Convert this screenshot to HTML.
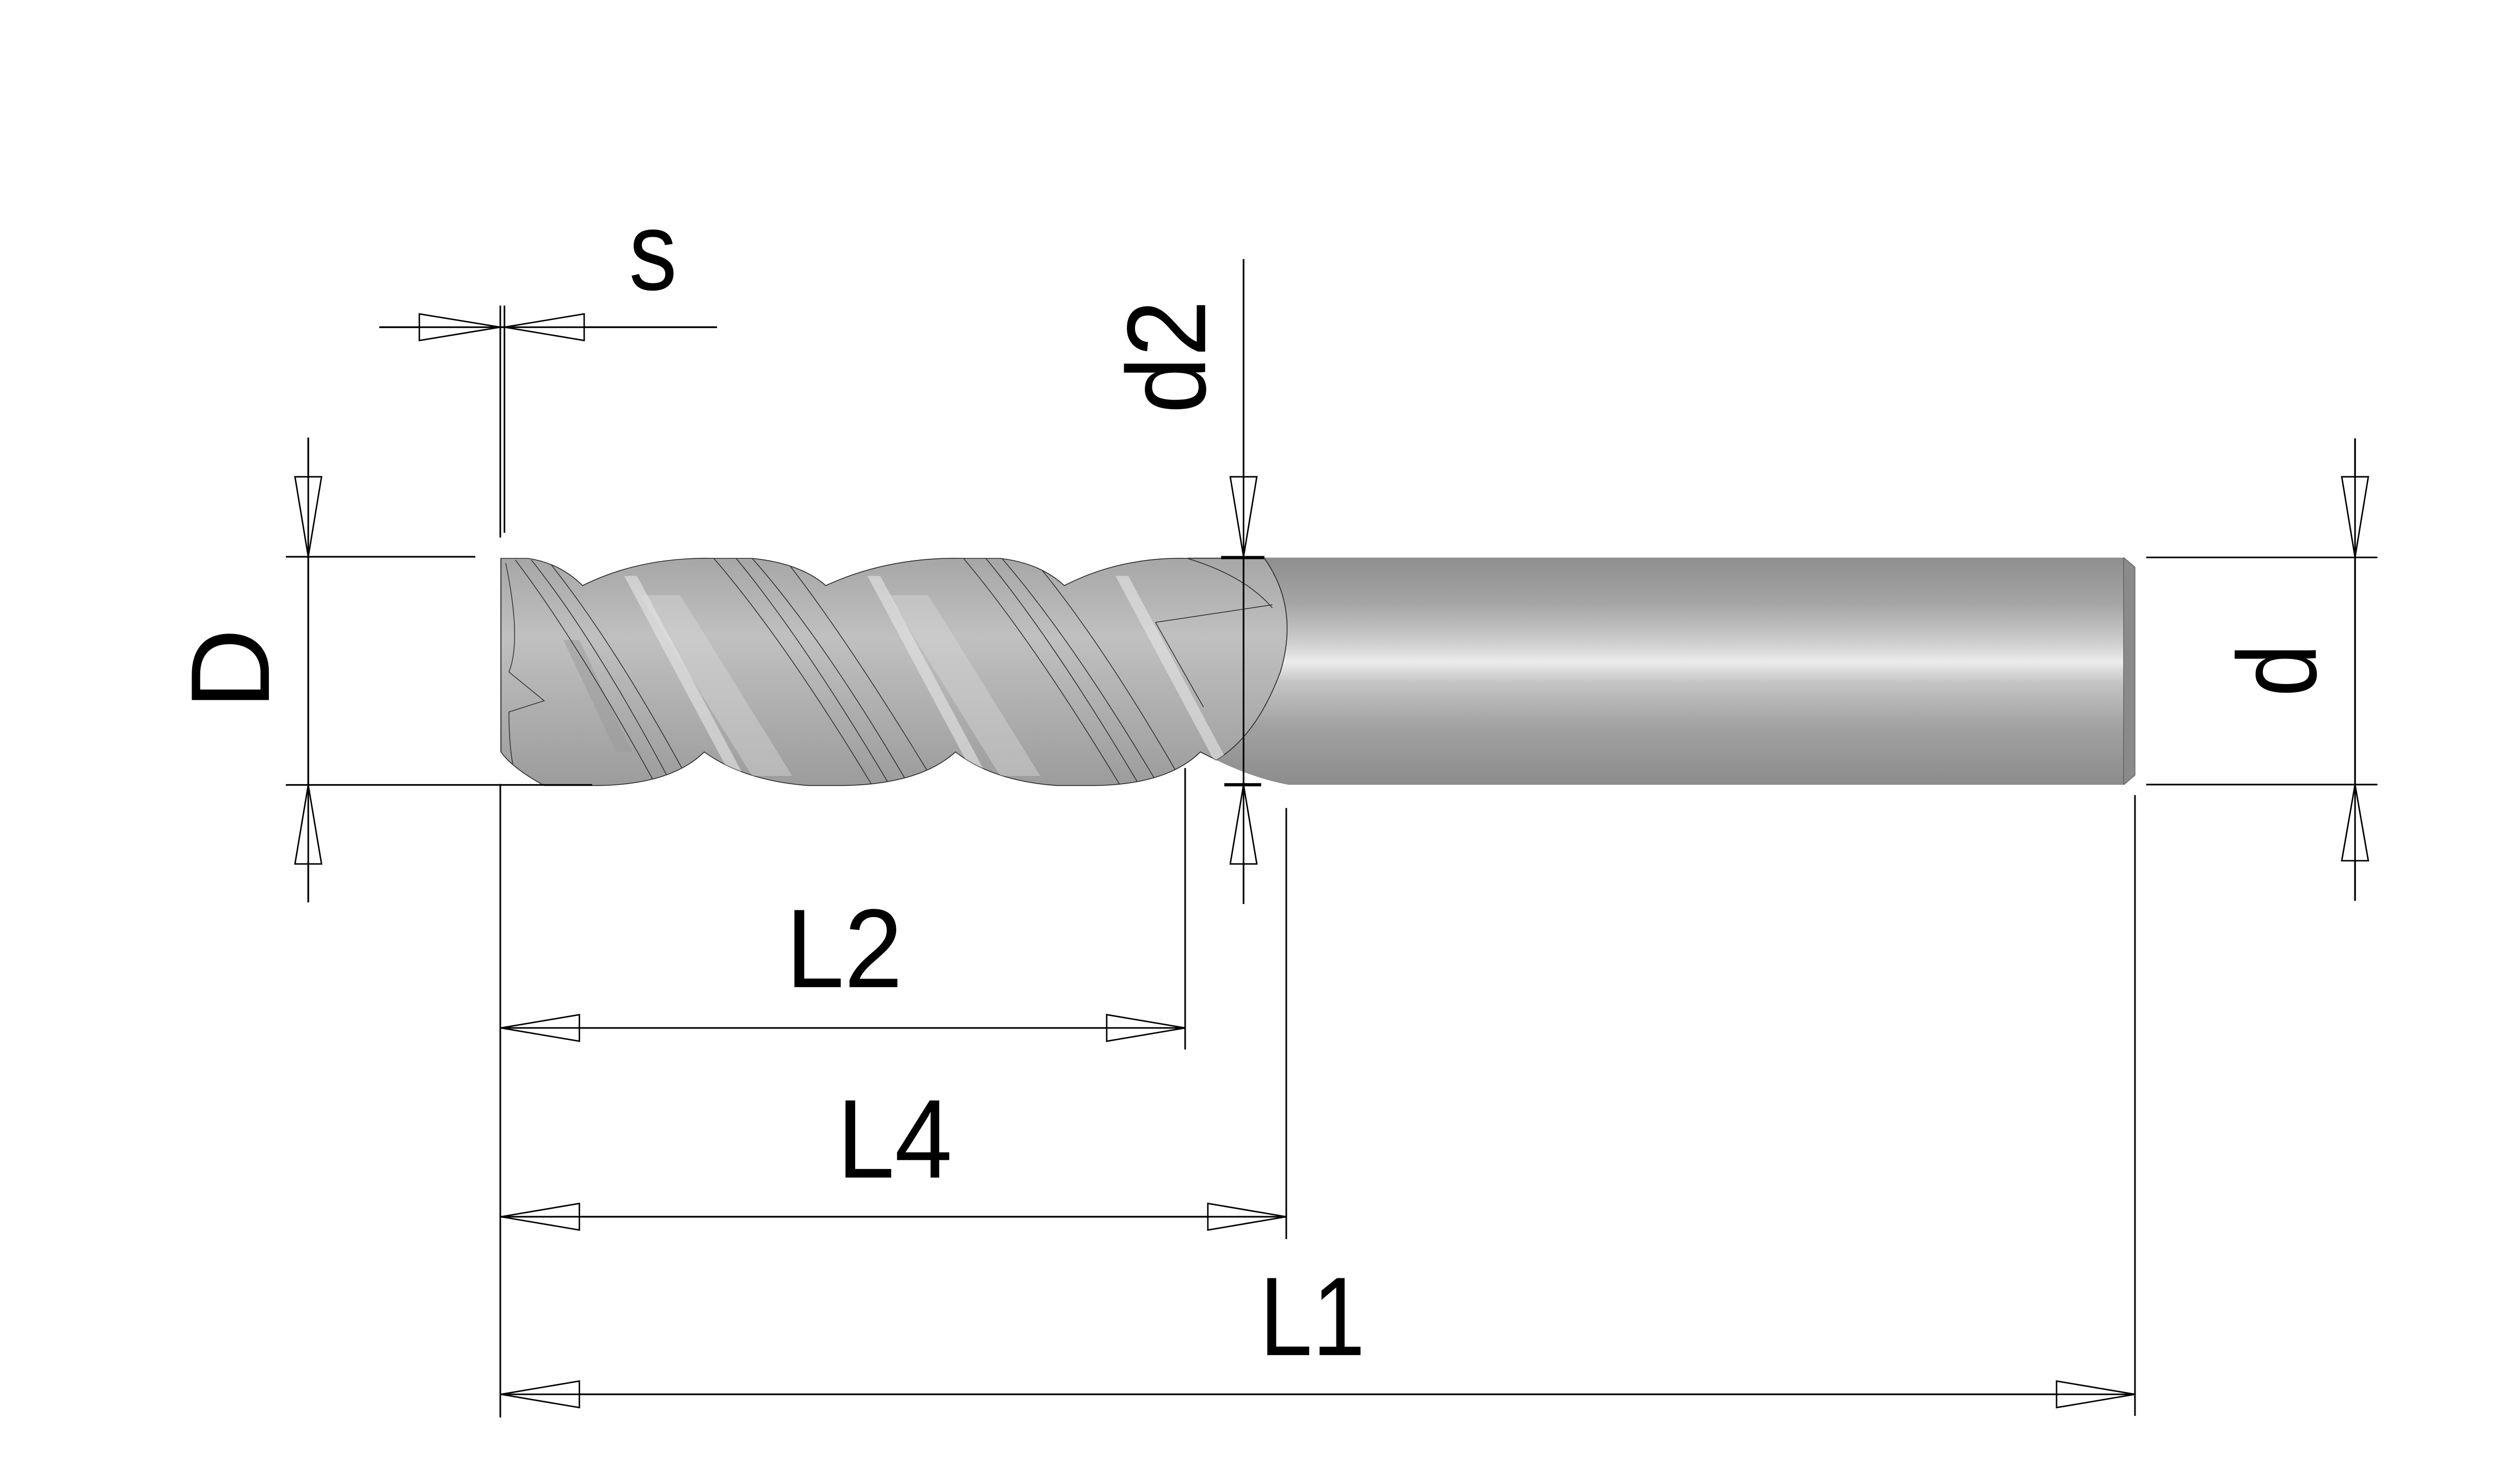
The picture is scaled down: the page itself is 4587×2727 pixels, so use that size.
<!DOCTYPE html>
<html><head><meta charset="utf-8"><style>
html,body{margin:0;padding:0;background:#fff;}
svg{display:block;}
text{font-family:"Liberation Sans",Arial,sans-serif;font-size:70px;fill:#000;}
</style></head><body>
<svg width="4587" height="2727" viewBox="0 0 1560.2 927.55" xmlns="http://www.w3.org/2000/svg">
<defs>
<linearGradient id="sh" x1="0" y1="348" x2="0" y2="491" gradientUnits="userSpaceOnUse">
<stop offset="0" stop-color="#8e8e8e"/>
<stop offset="0.2" stop-color="#a4a4a4"/>
<stop offset="0.38" stop-color="#cfcfcf"/>
<stop offset="0.46" stop-color="#ececec"/>
<stop offset="0.55" stop-color="#c4c4c4"/>
<stop offset="0.75" stop-color="#a0a0a0"/>
<stop offset="1" stop-color="#8c8c8c"/>
</linearGradient>
<linearGradient id="fl" x1="0" y1="348" x2="0" y2="491" gradientUnits="userSpaceOnUse">
<stop offset="0" stop-color="#a6a6a6"/>
<stop offset="0.35" stop-color="#c0c0c0"/>
<stop offset="0.6" stop-color="#b2b2b2"/>
<stop offset="1" stop-color="#9c9c9c"/>
</linearGradient>
<clipPath id="fc">
<path d="M313,349 L330,349 Q350,352 364,366 Q400,348 446,349 L470,349 Q500,352 516,366 Q555,348 602,349 L625,349 Q650,352 665,366 Q700,348 742,349 L790,349 Q812,380 800,420 Q785,460 760,475 L750,470 Q730,490 685,491 L660,491 Q620,488 597,470 Q575,490 528,491 L505,491 Q465,488 440,470 Q420,490 375,491 L340,491 Q320,480 313,470 Z"/>
</clipPath>
</defs>

<path d="M742,348.5 L1327,348.5 L1334,354.5 L1334,484.5 L1327,490.5 L805,490.5 Q780,486 750,470 L742,400 Z" fill="url(#sh)"/>
<line x1="1327" y1="348.5" x2="1327" y2="490.5" stroke="#333" stroke-width="0.5"/>
<path d="M1327,348.5 L1334,354.5 L1334,484.5 L1327,490.5" fill="#8a8a8a" stroke="#555" stroke-width="0.4"/>

<path d="M313,349 L330,349 Q350,352 364,366 Q400,348 446,349 L470,349 Q500,352 516,366 Q555,348 602,349 L625,349 Q650,352 665,366 Q700,348 742,349 L790,349 Q812,380 800,420 Q785,460 760,475 L750,470 Q730,490 685,491 L660,491 Q620,488 597,470 Q575,490 528,491 L505,491 Q465,488 440,470 Q420,490 375,491 L340,491 Q320,480 313,470 Z" fill="url(#fl)" stroke="#222" stroke-width="0.5"/>
<g clip-path="url(#fc)">
  <path d="M400,372 L425,372 L495,485 L470,485 Z" fill="#d8d8d8" opacity="0.45"/>
  <path d="M555,372 L580,372 L650,485 L625,485 Z" fill="#d8d8d8" opacity="0.45"/>
  <path d="M352,400 L362,400 L395,470 L385,470 Z" fill="#9a9a9a" opacity="0.5"/>
  <path d="M390,360 L398,360 L468,491 L460,491 Z" fill="#e6e6e6" opacity="0.6"/>
  <path d="M542,360 L550,360 L620,491 L612,491 Z" fill="#e6e6e6" opacity="0.6"/>
  <path d="M697,360 L705,360 L775,491 L767,491 Z" fill="#e6e6e6" opacity="0.6"/>
  <g fill="none" stroke="#222" stroke-width="0.45">
    <path d="M322,350 Q360,400 410,491"/><path d="M332,350 Q372,400 420,491"/><path d="M342,350 Q384,402 432,491"/>
    <path d="M446,349 Q490,400 545,491"/><path d="M460,349 Q502,400 556,491"/><path d="M470,349 Q515,400 568,491"/><path d="M490,349 Q530,400 585,491"/>
    <path d="M602,349 Q645,400 700,491"/><path d="M616,349 Q658,400 712,491"/><path d="M626,349 Q670,400 724,491"/><path d="M645,349 Q688,400 740,491"/>
    <path d="M742,349 Q778,360 795,380"/>
    <path d="M722,389 L795,378"/>
    <path d="M722,389 L752,442"/>
  </g>
  <path d="M316,352 Q326,400 318,420 L340,438 L318,445 Q318,470 322,485" fill="none" stroke="#333" stroke-width="0.5"/>
</g>
<line x1="313" y1="349" x2="313" y2="470" stroke="#222" stroke-width="0.6"/>

<g stroke="#000" stroke-width="1" fill="none">
  <line x1="237" y1="204.5" x2="448" y2="204.5"/>
  <line x1="312.6" y1="191" x2="312.6" y2="336"/>
  <line x1="315.2" y1="191" x2="315.2" y2="333"/>
  <line x1="192.6" y1="273.5" x2="192.6" y2="564"/>
  <line x1="178.6" y1="348" x2="297" y2="348"/>
  <line x1="178.6" y1="490.6" x2="370" y2="490.6"/>
  <line x1="312.6" y1="490" x2="312.6" y2="886"/>
  <line x1="777" y1="162" x2="777" y2="565"/>
  <line x1="1471.5" y1="274" x2="1471.5" y2="563"/>
  <line x1="1341" y1="348.4" x2="1485.5" y2="348.4"/>
  <line x1="1341" y1="490.4" x2="1485.5" y2="490.4"/>
  <line x1="313" y1="642.5" x2="740.5" y2="642.5"/>
  <line x1="740.5" y1="480" x2="740.5" y2="656"/>
  <line x1="313" y1="760.5" x2="803.7" y2="760.5"/>
  <line x1="803.7" y1="505" x2="803.7" y2="774.5"/>
  <line x1="313" y1="871.5" x2="1334" y2="871.5"/>
  <line x1="1334" y1="497" x2="1334" y2="885"/>
</g>
<g stroke="#000" stroke-width="2">
  <line x1="763" y1="348.5" x2="790" y2="348.5"/>
  <line x1="765" y1="490.5" x2="788" y2="490.5"/>
</g>

<g stroke="#000" stroke-width="0.9" fill="#fff">
  <polygon points="312.6,204.5 262,196.2 262,212.8"/>
  <polygon points="315.2,204.5 365,196.2 365,212.8"/>
  <polygon points="192.6,348 184.3,298 200.9,298"/>
  <polygon points="192.6,490.6 184.3,540 200.9,540"/>
  <polygon points="777,348 768.7,298 785.3,298"/>
  <polygon points="777,490.5 768.7,540 785.3,540"/>
  <polygon points="1471.5,348.4 1463.2,298 1479.8,298"/>
  <polygon points="1471.5,490.4 1463.2,538 1479.8,538"/>
  <polygon points="313,642.5 362,634.2 362,650.8"/>
  <polygon points="740.5,642.5 691.5,634.2 691.5,650.8"/>
  <polygon points="313,760.5 362,752.2 362,768.8"/>
  <polygon points="803.7,760.5 754.7,752.2 754.7,768.8"/>
  <polygon points="313,871.5 362,863.2 362,879.8"/>
  <polygon points="1334,871.5 1285,863.2 1285,879.8"/>
</g>
<g stroke="#000" stroke-width="1">
  <line x1="192.6" y1="273.5" x2="192.6" y2="564"/>
  <line x1="777" y1="162" x2="777" y2="565"/>
  <line x1="1471.5" y1="274" x2="1471.5" y2="563"/>
  <line x1="237" y1="204.5" x2="448" y2="204.5"/>
  <line x1="313" y1="642.5" x2="740.5" y2="642.5"/>
  <line x1="313" y1="760.5" x2="803.7" y2="760.5"/>
  <line x1="313" y1="871.5" x2="1334" y2="871.5"/>
</g>

<text x="393" y="181" textLength="30" lengthAdjust="spacingAndGlyphs">s</text>
<text transform="translate(168,418) rotate(-90)" text-anchor="middle">D</text>
<text transform="translate(753,223) rotate(-90)" text-anchor="middle" textLength="71" lengthAdjust="spacingAndGlyphs">d2</text>
<text transform="translate(1447,419) rotate(-90)" text-anchor="middle" textLength="33" lengthAdjust="spacingAndGlyphs">d</text>
<text x="491" y="617" textLength="73" lengthAdjust="spacingAndGlyphs">L2</text>
<text x="523" y="736" textLength="72" lengthAdjust="spacingAndGlyphs">L4</text>
<text x="787" y="847" textLength="66" lengthAdjust="spacingAndGlyphs">L1</text>
</svg>
</body></html>
